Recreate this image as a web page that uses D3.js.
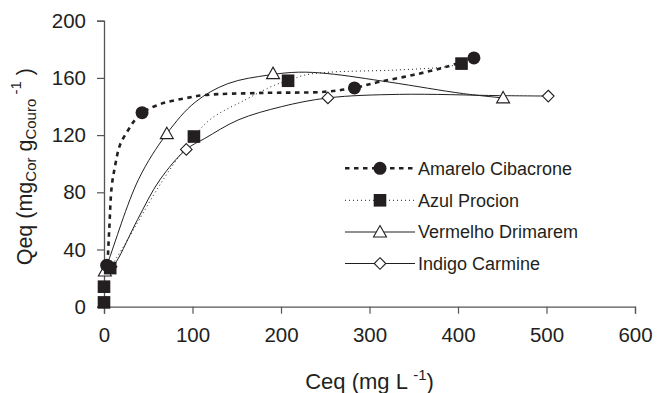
<!DOCTYPE html>
<html><head><meta charset="utf-8">
<script src="https://cdn.jsdelivr.net/npm/d3@7"></script>
<style>
body{margin:0;background:#fff;}
svg{display:block;font-family:"Liberation Sans",Arial,sans-serif;}
</style></head>
<body><svg id="c" width="657" height="393"></svg>
<script>
// ---- data (measured points) ----
const seriesNames = ["Amarelo Cibacrone","Azul Procion","Vermelho Drimarem","Indigo Carmine"];
const amareloX = [3, 43, 283, 418];
const amareloY = [29, 135.7, 153, 174];
const azulX = [0, 0, 7, 101.6, 208, 404];
const azulY = [3, 14, 27, 119, 158, 170];
const vermelhoX = [1, 71, 191, 451];
const vermelhoY = [25, 121, 163, 146];
const indigoX = [8, 93, 253, 502];
const indigoY = [28, 110, 146, 147.3];
// ---- fitted curves ----
const amareloFitX = [4, 6, 8.7, 12.4, 18, 27.4, 35, 43.3, 65, 91.4, 114, 180, 249.5, 282.6, 311.6, 349, 387, 418];
const amareloFitY = [30, 55, 84, 98, 113, 123.6, 130.6, 135.7, 142, 145.7, 148, 149.5, 150.3, 153, 157.3, 162, 167.8, 174];
const azulFitX = [7, 24, 65, 101.6, 121.6, 159, 193, 208, 227, 255, 330, 387, 404];
const azulFitY = [27, 44, 87, 119, 131.7, 144.5, 155, 158, 162, 164, 165.5, 167.8, 170];
const vermelhoFitX = [0, 5, 39, 71, 103, 140, 186, 220, 253, 323, 406, 451];
const vermelhoFitY = [24, 32, 89, 121, 143, 156, 162, 164, 163, 157, 149, 146];
const indigoFitX = [8, 14, 38, 63, 93, 114, 151.6, 200.6, 253, 334, 447, 502];
const indigoFitY = [27, 31.5, 61, 88.6, 110, 117.7, 130.6, 139.9, 146, 148.5, 147.6, 147.3];
const xTicks = [0, 100, 200, 300, 400, 500, 600];
const yTicks = [0, 40, 80, 120, 160, 200];

const ink = "#231f20";
const svg = d3.select("#c");
const x = d3.scaleLinear().domain([0, 600]).range([104, 635]);
const y = d3.scaleLinear().domain([0, 200]).range([306.7, 20.7]);

// axes
const xAxis = svg.append("g").attr("transform", `translate(0,${y(0)})`)
  .call(d3.axisBottom(x).tickValues(xTicks).tickSize(7).tickPadding(10).tickFormat(d3.format("d")));
const yAxis = svg.append("g").attr("transform", `translate(${x(0)},0)`)
  .call(d3.axisLeft(y).tickValues(yTicks).tickSize(7).tickPadding(11).tickFormat(d3.format("d")));
[xAxis, yAxis].forEach(a => {
  a.select(".domain").attr("stroke", "#555").attr("stroke-width", 1.3);
  a.selectAll(".tick line").attr("stroke", "#555").attr("stroke-width", 1.2);
  a.selectAll(".tick text").attr("fill", ink).attr("font-size", 20.5).attr("font-family", "Liberation Sans, Arial, sans-serif");
});
xAxis.selectAll(".tick text").attr("dy", "0.9em");

const zip = (xs, ys) => xs.map((v, i) => [v, ys[i]]);
const line = d3.line().x(d => x(d[0])).y(d => y(d[1])).curve(d3.curveCatmullRom.alpha(0.5));

const styles = [
  {fit: zip(amareloFitX, amareloFitY), pts: zip(amareloX, amareloY), w: 2.6, dash: "4.5,4.5", marker: "circle"},
  {fit: zip(azulFitX, azulFitY), pts: zip(azulX, azulY), w: 1, dash: "1,3", marker: "square"},
  {fit: zip(vermelhoFitX, vermelhoFitY), pts: zip(vermelhoX, vermelhoY), w: 1, dash: null, marker: "triangle"},
  {fit: zip(indigoFitX, indigoFitY), pts: zip(indigoX, indigoY), w: 1, dash: null, marker: "diamond"}
];

const plot = svg.append("g");
styles.forEach(s => {
  plot.append("path").datum(s.fit).attr("d", line).attr("fill", "none")
    .attr("stroke", ink).attr("stroke-width", s.w).attr("stroke-dasharray", s.dash);
});

function drawMarker(g, type, cx, cy) {
  if (type === "circle") {
    g.append("circle").attr("cx", cx).attr("cy", cy).attr("r", 6.5).attr("fill", ink);
  } else if (type === "square") {
    g.append("rect").attr("x", cx - 6.3).attr("y", cy - 6.3).attr("width", 12.6).attr("height", 12.6).attr("fill", ink);
  } else if (type === "triangle") {
    g.append("path").attr("d", `M${cx},${cy - 6.5}L${cx + 6.5},${cy + 5}L${cx - 6.5},${cy + 5}Z`)
      .attr("fill", "#fff").attr("stroke", ink).attr("stroke-width", 1.1);
  } else {
    g.append("path").attr("d", `M${cx},${cy - 5.8}L${cx + 5.8},${cy}L${cx},${cy + 5.8}L${cx - 5.8},${cy}Z`)
      .attr("fill", "#fff").attr("stroke", ink).attr("stroke-width", 1.1);
  }
}
[2, 3, 0, 1].forEach(i => {
  const s = styles[i];
  s.pts.forEach(p => drawMarker(plot, s.marker, x(p[0]), y(p[1])));
});

// legend
const leg = svg.append("g");
const legY = [168.3, 200.3, 232, 263.5];
styles.forEach((s, i) => {
  leg.append("line").attr("x1", 345).attr("x2", 415).attr("y1", legY[i]).attr("y2", legY[i])
    .attr("stroke", ink).attr("stroke-width", s.w).attr("stroke-dasharray", s.dash);
  drawMarker(leg, s.marker, 380, legY[i]);
  leg.append("text").attr("x", 418).attr("y", legY[i]).attr("dy", "0.35em")
    .attr("font-size", 18).attr("fill", ink).text(seriesNames[i]);
});

// axis titles
const xt = svg.append("text").attr("x", x(300)).attr("y", 389).attr("text-anchor", "middle")
  .attr("font-size", 22).attr("fill", ink);
xt.append("tspan").text("Ceq (mg L ");
xt.append("tspan").attr("font-size", 15).attr("dy", -9).text("-1");
xt.append("tspan").attr("dy", 9).text(")");

const yt = svg.append("text").attr("transform", `translate(32,${(y(0) + y(200)) / 2 + 3}) rotate(-90)`)
  .attr("text-anchor", "middle").attr("font-size", 21.5).attr("fill", ink);
yt.append("tspan").text("Qeq (mg");
yt.append("tspan").attr("font-size", 15).attr("dy", 4).text("Cor");
yt.append("tspan").attr("dy", -4).text(" g");
yt.append("tspan").attr("font-size", 15).attr("dy", 4).text("Couro");
yt.append("tspan").attr("font-size", 15).attr("dy", -15).text(" -1");
yt.append("tspan").attr("dy", 11).text(" )");
</script></body></html>
